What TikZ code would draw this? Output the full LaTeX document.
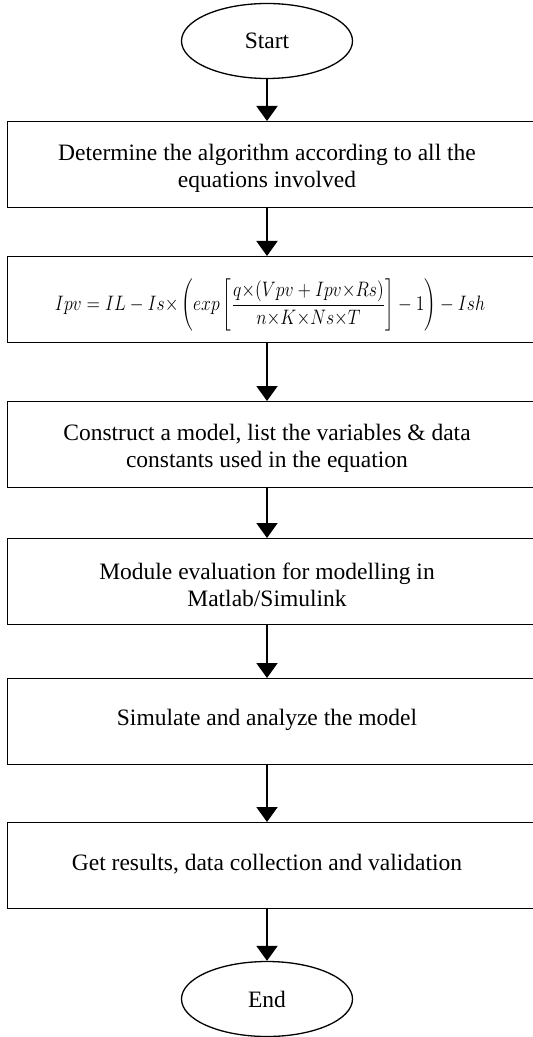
\documentclass[tikz,border=0pt]{standalone}
\usepackage{fontspec}
\usepackage{graphicx}
\setmainfont{Liberation Serif}
\usetikzlibrary{arrows.meta,shapes.geometric}
\begin{document}
\begin{tikzpicture}[x=0.5pt,y=-0.5pt,
  boxframe/.style={draw,line width=0.65pt,rectangle,minimum width=266.5pt,minimum height=43pt,anchor=north west,inner sep=0pt},
  term/.style={draw,line width=0.65pt,ellipse,minimum width=85.5pt,minimum height=37.5pt,inner sep=0pt,font=\fontsize{11.75}{13.5}\selectfont},
  txt/.style={align=center,font=\fontsize{11.75}{13.5}\selectfont,inner sep=0pt},
  arr/.style={line width=1pt,-{Triangle[width=10.5pt,length=7.5pt]}}]
\useasboundingbox (0,0) rectangle (532,1037);
\node[term] (s) at (267,41) {Start};
\node[boxframe] (b1) at (7,121) {};
\node[boxframe] (b2) at (7,256) {};
\node[boxframe] (b3) at (7,401) {};
\node[boxframe] (b4) at (7,538) {};
\node[boxframe] (b5) at (7,678) {};
\node[boxframe] (b6) at (7,822) {};
\node[term] (e) at (267,999) {End};
\node[txt] (t1) at (267,168) {Determine the algorithm according to all the\\equations involved};
\node[txt] (t2) at (270,305) {\resizebox{215pt}{!}{\scalebox{1}[1.18]{$\displaystyle Ipv = IL - Is{\times}\left(exp\left[\frac{q{\times}(Vpv + Ipv{\times}Rs)}{n{\times}K{\times}Ns{\times}T}\right] - 1\right) - Ish$}}};
\node[txt] (t3) at (267,448) {Construct a model, list the variables \& data\\constants used in the equation};
\node[txt] (t4) at (267,585) {Module evaluation for modelling in\\Matlab/Simulink};
\node[txt] (t5) at (267,720) {Simulate and analyze the model};
\node[txt] (t6) at (267,864) {Get results, data collection and validation};
\draw[arr] (s.south) -- (b1.north -| s);
\draw[arr] (b1.south -| s) -- (b2.north -| s);
\draw[arr] (b2.south -| s) -- (b3.north -| s);
\draw[arr] (b3.south -| s) -- (b4.north -| s);
\draw[arr] (b4.south -| s) -- (b5.north -| s);
\draw[arr] (b5.south -| s) -- (b6.north -| s);
\draw[arr] (b6.south -| s) -- (e.north);
\end{tikzpicture}
\end{document}
